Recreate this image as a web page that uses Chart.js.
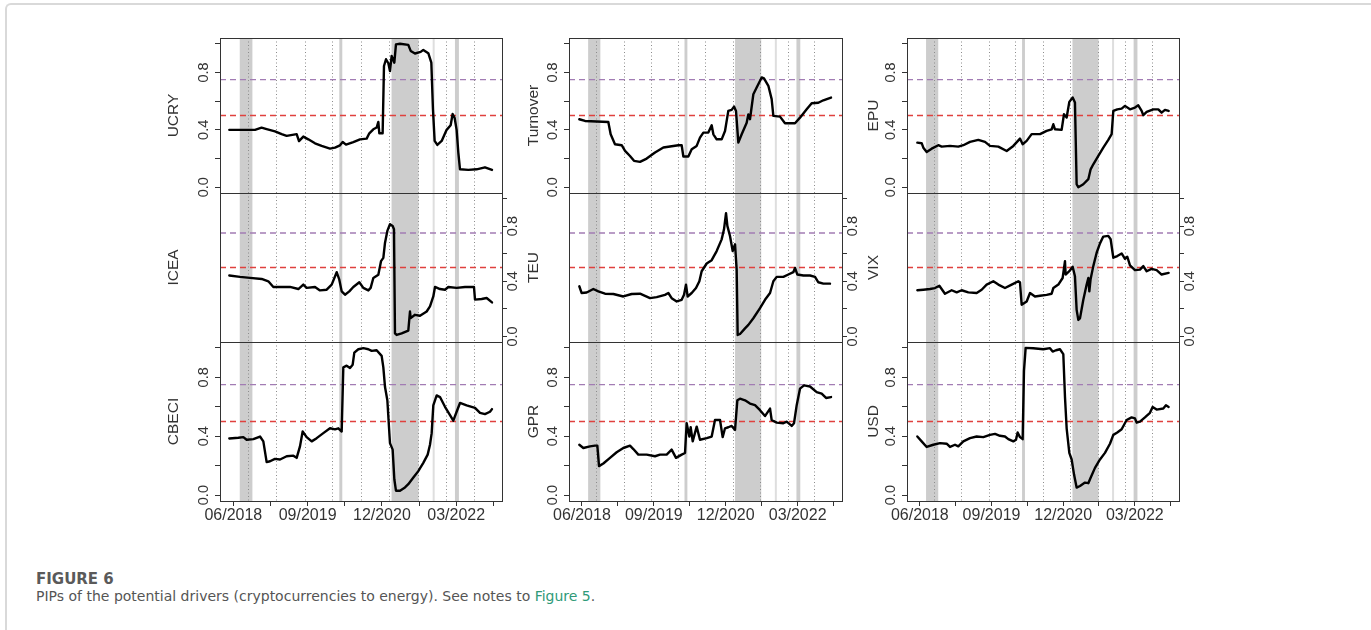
<!DOCTYPE html>
<html>
<head>
<meta charset="utf-8">
<title>Figure 6</title>
<script src="https://cdn.jsdelivr.net/npm/chart.js@4.4.1/dist/chart.umd.min.js"></script>
<style>
  html, body { margin: 0; padding: 0; background: #fff; }
  body { width: 1371px; height: 630px; position: relative; overflow: hidden; }
  #frame { position: absolute; left: 5px; top: 3px; width: 1400px; height: 700px;
           border-left: 2px solid #d9d9d9; border-top: 2px solid #d9d9d9; border-top-left-radius: 6px; }
  canvas.panel { position: absolute; }
  #caption { position: absolute; left: 36px; top: 569px; font-family: 'DejaVu Sans', sans-serif; color: #555; }
  #caption .fig { font-weight: 700; font-size: 15px; color: #5a5a5a; line-height: 20px; }
  #caption .txt { font-size: 14px; line-height: 20px; margin-top: -3px; }
  #caption a { color: #2f9a78; text-decoration: none; }
</style>
</head>
<body>
<div id="frame"></div>
<div id="caption">
  <div class="fig">FIGURE 6</div>
  <div class="txt">PIPs of the potential drivers (cryptocurrencies to energy). See notes to <a href="#">Figure 5</a>.</div>
</div>
<script>
// x axis: months since January 2018
const xMin = 2.31, xMax = 59.25;
const yMin = -0.04, yMax = 1.04;
const xTickValues = [5, 12.5, 20, 27.5, 35, 42.5, 50, 57.5];
const xTickLabels = ['06/2018', '', '09/2019', '', '12/2020', '', '03/2022', ''];
const yTickValues = [0, 0.2, 0.4, 0.6, 0.8, 1.0];
const yTickLabels = ['0.0', '', '0.4', '', '0.8', ''];
const shadedBands = [[6.3, 8.85], [26.4, 27.0], [36.95, 42.4], [49.75, 50.55]];
const lightLines = [45.45];
const dottedLines = [8.0, 13.7, 19.4, 25.0, 30.7, 36.5, 42.2, 47.9, 53.5];
const upperThreshold = 0.75;
const lowerThreshold = 0.5;

const ucry = [[4.19,0.40],[9.38,0.40],[10.7,0.415],[11.73,0.405],[13.41,0.39],[14.76,0.37],[15.77,0.358],[17.79,0.37],[18.26,0.322],[19.13,0.353],[20.14,0.334],[21.49,0.306],[22.83,0.288],[24.52,0.269],[25.53,0.276],[26.54,0.292],[27.08,0.315],[27.75,0.297],[29.23,0.315],[30.58,0.334],[31.92,0.339],[32.46,0.376],[33.27,0.404],[33.94,0.416],[34.28,0.455],[34.48,0.376],[35.15,0.376],[35.42,0.845],[35.83,0.892],[36.3,0.864],[36.63,0.81],[36.97,0.915],[37.51,0.868],[37.84,0.996],[38.65,1.0],[40.33,0.992],[40.81,0.95],[41.68,0.932],[42.83,0.943],[43.36,0.957],[44.37,0.934],[44.98,0.869],[45.31,0.543],[45.65,0.323],[46.19,0.295],[47.07,0.323],[48.07,0.4],[48.88,0.432],[49.28,0.511],[49.69,0.483],[50.09,0.4],[50.43,0.242],[50.77,0.125],[52.45,0.121],[54.13,0.125],[55.81,0.139],[57.23,0.121]];

const icea = [[4.19,0.442],[6.35,0.432],[8.37,0.425],[10.72,0.417],[12.07,0.4],[13.08,0.359],[14.76,0.359],[16.44,0.359],[18.13,0.344],[19.13,0.376],[19.81,0.352],[21.49,0.359],[22.5,0.334],[23.85,0.339],[24.86,0.376],[25.87,0.466],[26.4,0.412],[26.88,0.327],[27.55,0.303],[28.42,0.327],[29.23,0.359],[30.44,0.393],[31.25,0.352],[32.26,0.334],[32.73,0.352],[33.27,0.424],[34.28,0.448],[34.82,0.546],[35.29,0.57],[35.63,0.68],[36.1,0.765],[36.63,0.814],[37.17,0.801],[37.44,0.777],[37.64,0.023],[37.98,0.011],[38.99,0.023],[40.33,0.043],[40.67,0.181],[40.81,0.133],[41.68,0.157],[42.69,0.15],[44.04,0.181],[44.71,0.218],[45.38,0.29],[45.72,0.359],[46.73,0.344],[47.74,0.339],[48.41,0.359],[50.09,0.352],[51.78,0.359],[53.59,0.359],[53.8,0.267],[55.14,0.272],[56.15,0.279],[57.23,0.247]];

const cbeci = [[4.19,0.385],[6.01,0.39],[7.02,0.394],[7.69,0.376],[9.04,0.38],[10.39,0.398],[11.06,0.365],[11.73,0.224],[12.41,0.23],[13.41,0.246],[14.43,0.242],[15.77,0.264],[17.12,0.268],[17.79,0.253],[18.46,0.331],[19.0,0.432],[19.81,0.394],[20.82,0.365],[21.83,0.387],[23.17,0.421],[24.52,0.454],[25.53,0.447],[26.2,0.454],[26.88,0.432],[27.21,0.868],[27.88,0.879],[28.56,0.864],[29.1,0.886],[29.43,0.968],[30.24,0.991],[31.25,0.998],[32.26,0.991],[32.93,0.98],[33.94,0.984],[34.95,0.946],[35.29,0.868],[35.63,0.734],[36.1,0.644],[36.63,0.353],[37.17,0.309],[37.51,0.108],[37.84,0.03],[38.65,0.03],[39.66,0.052],[40.33,0.074],[41.35,0.119],[42.35,0.163],[43.36,0.219],[44.24,0.275],[44.71,0.342],[45.05,0.421],[45.38,0.61],[46.06,0.677],[46.73,0.666],[47.74,0.6],[48.75,0.544],[49.42,0.506],[50.09,0.566],[50.77,0.626],[52.11,0.61],[53.8,0.593],[54.81,0.559],[55.81,0.55],[56.82,0.566],[57.23,0.584]];

const turnover = [[4.46,0.474],[5.65,0.462],[10.51,0.455],[11.0,0.369],[11.9,0.3],[13.3,0.293],[14.0,0.254],[15.03,0.218],[15.87,0.184],[17.12,0.177],[18.51,0.2],[20.25,0.242],[21.99,0.277],[23.38,0.284],[25.12,0.293],[25.81,0.293],[26.16,0.214],[27.2,0.214],[27.9,0.265],[28.94,0.288],[29.63,0.346],[30.33,0.381],[31.37,0.381],[32.07,0.432],[32.42,0.369],[33.11,0.334],[34.15,0.334],[34.85,0.392],[35.54,0.532],[36.24,0.539],[36.73,0.562],[37.14,0.532],[37.63,0.311],[38.33,0.369],[39.37,0.45],[39.72,0.508],[40.06,0.474],[40.76,0.648],[41.45,0.695],[42.5,0.765],[42.98,0.758],[43.89,0.707],[44.58,0.614],[44.93,0.497],[46.32,0.492],[47.36,0.446],[49.45,0.446],[50.49,0.485],[51.88,0.543],[52.93,0.585],[54.32,0.589],[55.36,0.606],[56.96,0.625]];

const teu = [[4.46,0.364],[4.95,0.315],[6.0,0.319],[7.39,0.344],[8.43,0.327],[9.82,0.31],[11.56,0.308],[13.64,0.29],[15.38,0.308],[17.12,0.31],[19.21,0.278],[20.6,0.285],[22.33,0.302],[23.03,0.315],[23.72,0.278],[24.77,0.254],[25.81,0.266],[26.3,0.302],[26.71,0.376],[27.06,0.29],[27.9,0.315],[28.8,0.351],[29.5,0.4],[29.98,0.473],[31.03,0.529],[32.07,0.553],[33.11,0.619],[34.15,0.704],[34.64,0.777],[35.06,0.894],[35.34,0.802],[35.89,0.728],[36.45,0.619],[36.94,0.668],[37.28,0.485],[37.49,0.011],[37.98,0.018],[39.02,0.059],[39.72,0.084],[40.76,0.132],[42.15,0.205],[43.19,0.266],[44.24,0.315],[44.93,0.4],[45.63,0.432],[47.02,0.432],[48.06,0.449],[49.1,0.466],[49.45,0.497],[49.94,0.449],[51.19,0.442],[52.58,0.442],[53.62,0.432],[54.32,0.393],[55.36,0.383],[56.75,0.383]];

const gpr = [[4.46,0.342],[5.3,0.32],[6.69,0.331],[7.73,0.336],[8.22,0.336],[8.57,0.197],[9.47,0.215],[10.86,0.253],[12.25,0.291],[13.64,0.32],[15.03,0.336],[15.73,0.313],[16.77,0.275],[18.51,0.275],[20.25,0.264],[21.29,0.275],[22.68,0.275],[23.72,0.309],[24.63,0.253],[25.81,0.275],[26.51,0.286],[26.85,0.488],[27.41,0.398],[27.69,0.461],[28.11,0.365],[28.94,0.465],[29.63,0.376],[31.03,0.387],[32.07,0.398],[32.76,0.51],[33.81,0.51],[34.36,0.394],[34.85,0.454],[35.54,0.461],[36.24,0.47],[36.94,0.443],[37.42,0.644],[37.98,0.655],[39.02,0.644],[40.06,0.622],[41.11,0.611],[42.15,0.577],[43.19,0.537],[44.24,0.588],[44.58,0.51],[45.63,0.492],[47.02,0.488],[47.71,0.499],[48.76,0.47],[49.24,0.488],[49.8,0.611],[50.49,0.723],[51.33,0.745],[52.58,0.738],[53.97,0.7],[55.01,0.689],[55.92,0.66],[56.96,0.666]];

const epu = [[4.47,0.311],[5.38,0.307],[5.73,0.276],[6.43,0.246],[7.47,0.269],[8.87,0.293],[9.57,0.283],[11.31,0.288],[13.05,0.283],[14.1,0.293],[15.5,0.316],[17.24,0.33],[18.64,0.316],[19.68,0.288],[21.43,0.283],[23.17,0.253],[24.57,0.288],[25.96,0.339],[26.52,0.3],[27.36,0.323],[28.4,0.37],[30.15,0.37],[31.54,0.393],[32.59,0.404],[32.94,0.439],[33.29,0.404],[34.68,0.4],[35.17,0.509],[35.73,0.486],[36.29,0.595],[36.99,0.625],[37.47,0.59],[37.82,0.021],[38.17,0.0],[39.22,0.021],[40.27,0.056],[40.75,0.125],[41.31,0.16],[42.36,0.218],[43.4,0.276],[44.45,0.33],[45.15,0.37],[45.5,0.532],[46.33,0.543],[47.24,0.548],[47.94,0.567],[48.99,0.543],[50.03,0.555],[50.73,0.571],[51.43,0.532],[51.78,0.502],[52.48,0.525],[53.87,0.543],[54.92,0.543],[55.61,0.52],[56.31,0.539],[57.08,0.532]];

const vix = [[4.47,0.335],[5.73,0.339],[7.12,0.344],[8.17,0.351],[9.08,0.368],[10.26,0.31],[11.66,0.335],[12.71,0.32],[13.75,0.335],[15.15,0.32],[16.89,0.315],[17.94,0.339],[18.98,0.376],[20.38,0.4],[21.43,0.376],[22.82,0.351],[24.22,0.376],[25.61,0.4],[25.96,0.393],[26.31,0.23],[27.36,0.254],[28.06,0.315],[29.1,0.29],[30.15,0.295],[31.54,0.302],[32.59,0.31],[32.94,0.351],[33.99,0.376],[34.89,0.424],[35.38,0.546],[35.52,0.449],[36.29,0.473],[36.99,0.505],[37.47,0.436],[37.82,0.193],[38.17,0.12],[38.52,0.131],[39.22,0.266],[39.92,0.376],[40.27,0.424],[40.48,0.327],[40.75,0.417],[41.31,0.51],[42.01,0.607],[42.71,0.675],[43.4,0.724],[44.45,0.729],[44.94,0.705],[45.5,0.571],[46.33,0.583],[47.24,0.602],[47.94,0.563],[48.43,0.578],[48.99,0.515],[50.03,0.481],[51.08,0.485],[51.78,0.51],[52.48,0.473],[53.52,0.49],[54.57,0.481],[55.61,0.449],[57.08,0.461]];

const usd = [[4.47,0.398],[5.38,0.365],[6.43,0.327],[7.82,0.342],[9.22,0.353],[10.61,0.349],[11.31,0.327],[12.36,0.342],[13.05,0.331],[14.1,0.365],[15.5,0.387],[16.89,0.398],[18.29,0.394],[19.68,0.409],[20.73,0.416],[21.77,0.403],[22.82,0.398],[23.52,0.38],[24.57,0.365],[25.13,0.376],[25.47,0.425],[25.96,0.394],[26.52,0.38],[26.8,0.846],[27.15,1.0],[28.75,0.998],[30.85,0.991],[32.24,0.998],[32.8,0.975],[33.5,0.984],[34.33,0.991],[35.03,0.958],[35.38,0.667],[35.73,0.454],[36.29,0.287],[36.78,0.242],[37.27,0.141],[37.82,0.051],[38.52,0.062],[39.57,0.085],[40.27,0.081],[40.75,0.118],[41.66,0.185],[42.71,0.242],[43.75,0.287],[44.8,0.349],[45.5,0.409],[46.33,0.425],[47.24,0.447],[48.29,0.51],[49.33,0.528],[50.03,0.521],[50.38,0.492],[51.08,0.499],[52.12,0.528],[53.17,0.559],[53.73,0.599],[54.57,0.581],[55.96,0.588],[56.52,0.61],[57.08,0.599]];

// layout of the 3x3 grid (page pixels)
const FONT = "'Liberation Sans', Arial, sans-serif";
const M = { L: 60, R: 50, T: 12, B: 35 };
const cols = [
  { left: 220, right: 502, nameX: 174 },
  { left: 569, right: 842, nameX: 534 },
  { left: 907, right: 1179, nameX: 874 }
];
const rows = [
  { top: 38, bottom: 193 },
  { top: 193, bottom: 342 },
  { top: 342, bottom: 501 }
];

const panels = [
  { name: 'UCRY', data: ucry, col: 0, row: 0 },
  { name: 'ICEA', data: icea, col: 0, row: 1 },
  { name: 'CBECI', data: cbeci, col: 0, row: 2 },
  { name: 'Turnover', data: turnover, col: 1, row: 0 },
  { name: 'TEU', data: teu, col: 1, row: 1 },
  { name: 'GPR', data: gpr, col: 1, row: 2 },
  { name: 'EPU', data: epu, col: 2, row: 0 },
  { name: 'VIX', data: vix, col: 2, row: 1 },
  { name: 'USD', data: usd, col: 2, row: 2 }
];

// bands, vertical guides, box and rotated labels
const decorPlugin = {
  id: 'decor',
  beforeDatasetsDraw(chart, args, opts) {
    const { ctx, chartArea: a, scales: { x } } = chart;
    ctx.save();
    ctx.beginPath();
    ctx.rect(a.left, a.top, a.width, a.height);
    ctx.clip();
    ctx.fillStyle = '#cdcdcd';
    shadedBands.forEach(([s, e]) => {
      const x0 = x.getPixelForValue(s), x1 = x.getPixelForValue(e);
      ctx.fillRect(x0, a.top, x1 - x0, a.height);
    });
    ctx.strokeStyle = '#dedede';
    ctx.lineWidth = 2;
    lightLines.forEach(v => {
      const px = x.getPixelForValue(v);
      ctx.beginPath(); ctx.moveTo(px, a.top); ctx.lineTo(px, a.bottom); ctx.stroke();
    });
    ctx.strokeStyle = '#8c8c8c';
    ctx.lineWidth = 1;
    ctx.setLineDash([1, 2.5]);
    dottedLines.forEach(v => {
      const px = Math.round(x.getPixelForValue(v)) + 0.5;
      ctx.beginPath(); ctx.moveTo(px, a.top); ctx.lineTo(px, a.bottom); ctx.stroke();
    });
    ctx.restore();
  },
  afterDraw(chart, args, opts) {
    const { ctx, chartArea: a, scales: { y } } = chart;
    ctx.save();
    ctx.strokeStyle = '#333';
    ctx.lineWidth = 1;
    ctx.strokeRect(Math.round(a.left) + 0.5, Math.round(a.top) + 0.5, Math.round(a.width), Math.round(a.height));

    ctx.fillStyle = '#333';
    ctx.textAlign = 'center';
    ctx.textBaseline = 'middle';
    ctx.font = '14.5px ' + FONT;
    const tx = opts.side === 'right' ? a.right + 11 : a.left - 16;
    yTickValues.forEach((v, i) => {
      if (!yTickLabels[i]) return;
      ctx.save();
      ctx.translate(tx, y.getPixelForValue(v));
      ctx.rotate(-Math.PI / 2);
      ctx.fillText(yTickLabels[i], 0, 0);
      ctx.restore();
    });

    ctx.font = '15.5px ' + FONT;
    ctx.translate(opts.nameX, (a.top + a.bottom) / 2);
    ctx.rotate(-Math.PI / 2);
    ctx.fillText(opts.name, 0, 0);
    ctx.restore();
  }
};

Chart.defaults.font.family = FONT;

panels.forEach(p => {
  const c = cols[p.col], r = rows[p.row];
  const side = p.row === 1 ? 'right' : 'left';
  const isBottom = p.row === 2;
  const left = c.left - M.L, top = r.top - M.T;
  const w = (c.right - c.left) + M.L + M.R;
  const h = (r.bottom - r.top) + M.T + M.B;

  const canvas = document.createElement('canvas');
  canvas.className = 'panel';
  canvas.width = w; canvas.height = h;
  canvas.style.left = left + 'px'; canvas.style.top = top + 'px';
  canvas.style.width = w + 'px'; canvas.style.height = h + 'px';
  document.body.appendChild(canvas);

  const yAxis = (pos, show, width) => ({
    type: 'linear', position: pos, min: yMin, max: yMax,
    afterBuildTicks: s => { s.ticks = yTickValues.map(v => ({ value: v })); },
    afterFit: s => { s.width = width; },
    ticks: { display: false },
    grid: { display: show, drawOnChartArea: false, drawTicks: true, tickLength: 5, color: '#333', lineWidth: 1 },
    border: { display: false }
  });

  new Chart(canvas, {
    type: 'line',
    data: {
      datasets: [
        {
          data: p.data.map(([m, v]) => ({ x: m, y: v })),
          borderColor: '#000', borderWidth: 2.4, pointRadius: 0, tension: 0,
          borderJoinStyle: 'round', borderCapStyle: 'round'
        },
        {
          data: [{ x: xMin, y: upperThreshold }, { x: xMax, y: upperThreshold }],
          borderColor: '#a27cb4', borderWidth: 1.3, borderDash: [6, 4], pointRadius: 0
        },
        {
          data: [{ x: xMin, y: lowerThreshold }, { x: xMax, y: lowerThreshold }],
          borderColor: '#e0413e', borderWidth: 1.6, borderDash: [6, 4], pointRadius: 0
        }
      ]
    },
    options: {
      responsive: false,
      animation: false,
      events: [],
      layout: { padding: { top: M.T, left: 0, right: 0, bottom: 0 } },
      plugins: {
        legend: { display: false },
        tooltip: { enabled: false },
        decor: { name: p.name, side: side, nameX: c.nameX - left }
      },
      scales: {
        x: {
          type: 'linear', min: xMin, max: xMax,
          afterBuildTicks: s => { s.ticks = xTickValues.map(v => ({ value: v })); },
          afterFit: s => { s.height = M.B; },
          ticks: {
            display: isBottom, autoSkip: false, maxRotation: 0, minRotation: 0, padding: 0,
            color: '#333', font: { size: 16, family: FONT },
            callback: (v, i) => xTickLabels[i]
          },
          grid: { display: isBottom, drawOnChartArea: false, tickLength: 5, color: '#333' },
          border: { display: false }
        },
        y: yAxis('left', side === 'left', M.L),
        y2: yAxis('right', side === 'right', M.R)
      }
    },
    plugins: [decorPlugin]
  });
});
</script>
</body>
</html>
